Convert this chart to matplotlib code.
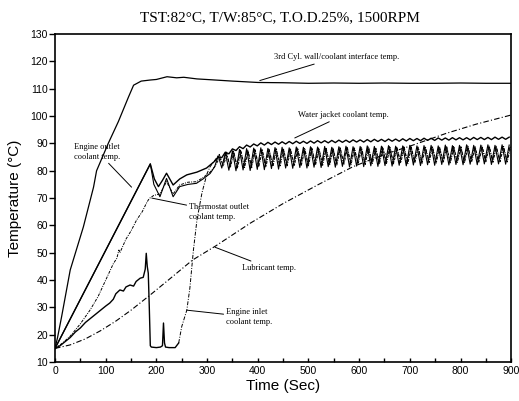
import numpy as np
import matplotlib
matplotlib.use("Agg")
import matplotlib.pyplot as plt

# ---- data (time in s, temperature in deg C) ----
wall_t = [0, 5, 13, 30, 56, 76, 82, 105, 125, 145, 155, 170, 188, 200, 221, 240, 254,
          280, 307, 350, 400, 450, 500, 550, 600, 650, 700, 750, 800, 850, 900]
wall_T = [15, 19, 26.6, 43.7, 59.5, 74, 80, 90, 98, 107, 111.3, 112.8, 113.2, 113.4, 114.4,
          114, 114.2, 113.6, 113.3, 112.8, 112.3, 112.2, 112, 112.1, 112, 112.1, 112, 112,
          112.1, 112, 112]

outlet_t = [0, 188, 195, 207, 220, 233, 246, 262, 279, 292, 306, 315]
outlet_T = [15, 82.5, 75, 70.5, 77.2, 70.5, 74.2, 75, 75.4, 77, 79, 81.5]

jacket_t = [0, 188, 196, 204, 212, 220, 233, 246, 260, 280, 299, 315]
jacket_T = [15, 82.5, 77, 74.2, 76.5, 79.1, 74.8, 77, 78.5, 79.5, 81, 83.5]

thermo_t = [0, 15, 30, 50, 69, 85, 100, 115, 122, 126, 128, 140, 150, 161, 172, 180, 184,
            187, 195, 207, 220, 233, 246, 262, 279, 292, 306, 315]
thermo_T = [15, 17, 19.5, 24, 29, 34, 40, 46, 48, 51, 50, 55, 58, 62, 65, 68, 69.3,
            70, 71, 71.5, 76, 71.5, 74.8, 75.8, 76, 77.5, 79.5, 81.5]

inlet_t = [0, 10, 20, 30, 40, 50, 60, 70, 80, 90, 100, 108, 115, 120, 128, 135, 140, 148,
           155, 160, 168, 174, 178, 180, 182, 184, 186, 188, 190, 200, 208, 212, 214, 216,
           218, 225, 237, 244, 250, 255, 260, 266, 273, 280, 290, 300, 306, 312, 318]
inlet_T = [15, 16, 17.5, 19, 21, 22.5, 24.5, 26, 27.5, 29, 30.5, 31.6, 33, 35, 36.4, 36,
           37.5, 38.2, 37.8, 39.5, 40.7, 41, 44, 49.8, 45, 42.5, 30, 16, 15.5, 15.3, 15.5,
           16, 24.3, 17, 15.5, 15.3, 15.3, 17, 23, 26, 29, 37, 50.9, 62, 72, 79, 81.5, 83,
           84.5]

lube_t = [0, 30, 60, 90, 120, 150, 188, 230, 271, 317, 385, 450, 520, 588, 650, 700, 772,
          830, 900]
lube_T = [15, 16.3, 18.5, 21.5, 25, 29, 34.6, 41, 47.3, 52.5, 60.8, 68, 75, 81.5, 86, 89,
          93.7, 97, 100.4]

# oscillating part after ~320 s: peak / trough values, one pair per cycle
jacket_hi = [85.0, 86.8, 88.0, 88.8, 89.4, 89.8, 90.2, 90.4, 90.5, 90.6,
             90.7, 90.8, 90.8, 90.9, 91.0, 91.0, 91.1, 91.2, 91.2, 91.3,
             91.3, 91.4, 91.5, 91.5, 91.6, 91.6, 91.7, 91.8, 91.8, 91.9,
             91.9, 92.0, 92.0, 92.1, 92.1, 92.1, 92.2, 92.2, 92.2, 92.3,
             92.3, 92.3]
jacket_lo = [84.8, 86.2, 87.4, 88.1, 88.7, 89.1, 89.4, 89.6, 89.7, 89.8,
             89.9, 90.0, 90.0, 90.1, 90.2, 90.2, 90.3, 90.4, 90.4, 90.5,
             90.5, 90.6, 90.7, 90.7, 90.8, 90.8, 90.9, 91.0, 91.0, 91.1,
             91.1, 91.2, 91.2, 91.3, 91.3, 91.3, 91.4, 91.4, 91.4, 91.5,
             91.5]
outlet_hi = [85.5, 86.6, 87.3, 87.8, 88.1, 88.3, 88.4, 88.2, 88.5, 88.6,
             88.4, 88.7, 88.6, 88.8, 88.7, 88.9, 88.6, 88.8, 89.0, 88.8,
             88.9, 89.1, 88.9, 89.0, 89.2, 89.0, 89.1, 89.3, 89.1, 89.2,
             89.3, 89.1, 89.4, 89.2, 89.3, 89.5, 89.3, 89.4, 89.5, 89.3,
             89.5, 89.4]
outlet_lo = [81.0, 80.2, 80.0, 80.3, 80.1, 80.5, 80.4, 80.8, 80.6, 81.0,
             80.9, 81.2, 81.0, 81.3, 81.2, 81.5, 81.3, 81.6, 81.4, 81.7,
             81.5, 81.8, 81.6, 81.9, 81.7, 82.0, 81.8, 82.1, 81.9, 82.2,
             82.0, 82.3, 82.1, 82.3, 82.2, 82.4, 82.2, 82.5, 82.3, 82.5,
             82.4]
thermo_hi = [84.8, 85.9, 86.6, 87.0, 87.3, 87.5, 87.6, 87.5, 87.8, 87.9,
             87.7, 88.0, 87.9, 88.1, 88.0, 88.2, 88.0, 88.2, 88.3, 88.1,
             88.3, 88.4, 88.2, 88.4, 88.5, 88.3, 88.5, 88.6, 88.4, 88.6,
             88.7, 88.5, 88.7, 88.6, 88.7, 88.8, 88.7, 88.8, 88.9, 88.7,
             88.9, 88.8]
thermo_lo = [81.8, 81.2, 81.0, 81.2, 81.1, 81.4, 81.3, 81.6, 81.5, 81.8,
             81.7, 82.0, 81.8, 82.1, 82.0, 82.2, 82.1, 82.4, 82.2, 82.5,
             82.3, 82.5, 82.4, 82.7, 82.5, 82.8, 82.6, 82.9, 82.7, 83.0,
             82.8, 83.0, 82.9, 83.1, 83.0, 83.2, 83.0, 83.3, 83.1, 83.3,
             83.2]
inlet_hi = [86.0, 86.8, 87.2, 87.5, 87.7, 87.9, 88.0, 87.9, 88.1, 88.2,
            88.0, 88.3, 88.2, 88.4, 88.3, 88.5, 88.3, 88.5, 88.6, 88.4,
            88.6, 88.7, 88.5, 88.7, 88.8, 88.6, 88.8, 88.9, 88.7, 88.9,
            89.0, 88.8, 89.0, 88.9, 89.0, 89.1, 89.0, 89.1, 89.2, 89.0,
            89.2, 89.1]
inlet_lo = [82.2, 81.6, 81.4, 81.6, 81.5, 81.8, 81.7, 82.0, 81.9, 82.2,
            82.1, 82.4, 82.2, 82.5, 82.4, 82.6, 82.5, 82.8, 82.6, 82.9,
            82.7, 82.9, 82.8, 83.1, 82.9, 83.2, 83.0, 83.3, 83.1, 83.4,
            83.2, 83.4, 83.3, 83.5, 83.4, 83.6, 83.4, 83.7, 83.5, 83.7,
            83.6]


def zig(t0, hi, lo):
    # interleave peaks and troughs, half a cycle (7 s) apart
    vals = []
    for i in range(len(hi)):
        vals.append(hi[i])
        if i < len(lo):
            vals.append(lo[i])
    times = [t0 + 7 * i for i in range(len(vals))]
    return times, vals


def join(t_a, T_a, t0, hi, lo):
    tb, vb = zig(t0, hi, lo)
    return list(t_a) + tb, list(T_a) + vb


jt, jT = join(jacket_t, jacket_T, 322, jacket_hi, jacket_lo)
ot, oT = join(outlet_t, outlet_T, 322, outlet_hi, outlet_lo)
tt, tT = join(thermo_t, thermo_T, 325, thermo_hi, thermo_lo)
it, iT = join(inlet_t, inlet_T, 324, inlet_hi, inlet_lo)

plt.rcParams['font.family'] = ['Liberation Sans', 'DejaVu Sans']
fig = plt.figure(figsize=(5.19, 4.01), dpi=100)
ax = fig.add_axes([0.106, 0.097, 0.879, 0.818])

k = 'black'
ax.plot(wall_t, wall_T, color=k, lw=0.9)
ax.plot(jt, jT, color=k, lw=1.0)
ax.plot(ot, oT, color=k, lw=0.8)
ax.plot(tt, tT, color=k, lw=0.7, ls=(0, (3, 1.2, 1, 1.2)))
n_solid = inlet_t.index(244) + 1
ax.plot(it[:n_solid], iT[:n_solid], color=k, lw=1.0)
ax.plot(it[n_solid - 1:], iT[n_solid - 1:], color=k, lw=0.7, ls=(0, (4, 1.5, 1, 1.5)))
ax.plot(lube_t, lube_T, color=k, lw=0.8, ls=(0, (5, 2, 1, 2)))

ax.set_xlim(0, 900)
ax.set_ylim(10, 130)
ax.set_xticks(range(0, 901, 100))
ax.set_xticks(range(50, 900, 100), minor=True)
ax.set_yticks(range(10, 131, 10))
ax.tick_params(axis='y', direction='out', length=4, width=1, labelsize=7.5, pad=1)
ax.tick_params(axis='x', which='both', direction='in', length=3, width=1, labelsize=7.5, pad=3)
for s in ax.spines.values():
    s.set_linewidth(1.2)

ax.set_xlabel('Time (Sec)', fontsize=11, labelpad=2)
ax.set_ylabel('Temperature (\u00b0C)', fontsize=11, labelpad=6)
fig.text(0.54, 0.955, 'TST:82\u00b0C, T/W:85\u00b0C, T.O.D.25%, 1500RPM',
         ha='center', va='center', fontsize=11, family='Liberation Serif')

note = dict(fontsize=6, family='Liberation Serif', color=k)
arrow = dict(arrowstyle='-', color=k, lw=0.7, shrinkA=0, shrinkB=0)
ax.annotate('3rd Cyl. wall/coolant interface temp.', xy=(404, 113), xytext=(432, 121.5),
            ha='left', va='center', arrowprops=arrow, **note)
ax.annotate('Water jacket coolant temp.', xy=(473, 92), xytext=(480, 100.4),
            ha='left', va='center', arrowprops=arrow, **note)
ax.annotate('Engine outlet\ncoolant temp.', xy=(151, 74), xytext=(38, 87),
            ha='left', va='center', linespacing=1.3, arrowprops=arrow, **note)
ax.annotate('Thermostat outlet\ncoolant temp.', xy=(191, 70), xytext=(265, 65),
            ha='left', va='center', linespacing=1.3, arrowprops=arrow, **note)
ax.annotate('Lubricant temp.', xy=(316, 52), xytext=(368, 44.5),
            ha='left', va='center', arrowprops=arrow, **note)
ax.annotate('Engine inlet\ncoolant temp.', xy=(260, 29), xytext=(338, 26.5),
            ha='left', va='center', linespacing=1.3, arrowprops=arrow, **note)

fig.savefig('out.png', dpi=100)
